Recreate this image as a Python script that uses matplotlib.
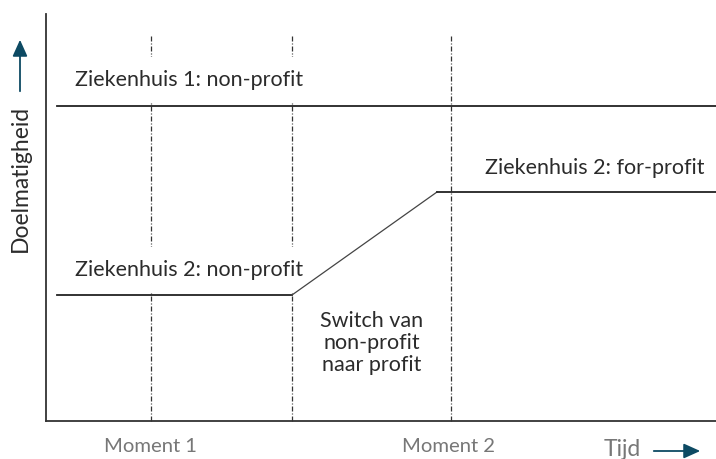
import matplotlib.pyplot as plt

plt.rcParams['font.family'] = ['Lato', 'DejaVu Sans']

# data (axis units, origin at the corner of the two axes)
moments = [105, 246, 405]          # vertical dashed lines
moment_top = 385
zh1_x = [11, 670]
zh1_y = [315, 315]
zh2_x = [11, 246, 391, 670]
zh2_y = [126, 126, 229, 229]
moment_labels = ["Moment 1", "Moment 2"]
moment_label_x = [105, 402]

W, H = 716, 459
fig = plt.figure(figsize=(W / 100, H / 100), dpi=100)
ax = fig.add_axes([46 / W, 38 / H, 670 / W, 407 / H])
ax.set_xlim(0, 670)
ax.set_ylim(0, 407)
ax.set_xticks([])
ax.set_yticks([])
for s in ['top', 'right']:
    ax.spines[s].set_visible(False)
for s in ['left', 'bottom']:
    ax.spines[s].set_color('#333333')
    ax.spines[s].set_linewidth(1.3)

dark = '#2b2b2b'
teal = '#0d4a63'

for m in moments:
    ax.plot([m, m], [0, moment_top], color='#333333', lw=0.9,
            linestyle=(0, (4, 1.6, 0.8, 1.6)), zorder=1, clip_on=False)

ax.plot(zh1_x, zh1_y, color='#222222', lw=1.3, zorder=4, clip_on=False)
ax.plot(zh2_x[:2], zh2_y[:2], color='#222222', lw=1.3, zorder=4)
ax.plot(zh2_x[1:3], zh2_y[1:3], color='#444444', lw=0.9, zorder=4)
ax.plot(zh2_x[2:], zh2_y[2:], color='#222222', lw=1.3, zorder=4, clip_on=False)

fs = 15.5
box = dict(boxstyle='square,pad=0.6', fc='white', ec='none')
ax.text(29, 341, "Ziekenhuis 1: non-profit", fontsize=fs, color=dark,
        ha='left', va='center', bbox=box, zorder=3)
ax.text(29, 151, "Ziekenhuis 2: non-profit", fontsize=fs, color=dark,
        ha='left', va='center', bbox=box, zorder=3)
ax.text(439, 253, "Ziekenhuis 2: for-profit", fontsize=fs, color=dark,
        ha='left', va='center', zorder=3)
ax.text(326, 78, "Switch van\nnon-profit\nnaar profit", fontsize=fs, color=dark,
        ha='center', va='center', linespacing=1.12, zorder=3)

for lx, lab in zip(moment_label_x, moment_labels):
    ax.text(lx, -25, lab, fontsize=14.6, color='#777777', ha='center',
            va='center', clip_on=False)

fig.text(622 / W, 9 / H, "Tijd", fontsize=16.5, color='#777777',
         ha='center', va='center')
ax.annotate('', xy=(703, 8), xytext=(651, 8), xycoords='figure pixels',
            textcoords='figure pixels',
            arrowprops=dict(arrowstyle='-|>,head_length=1.0,head_width=0.45',
                            color=teal, lw=1.3))

fig.text(20 / W, (H - 178) / H, "Doelmatigheid", fontsize=16.5, color=dark,
         rotation=90, ha='center', va='center')
ax.annotate('', xy=(20, H - 37), xytext=(20, H - 94), xycoords='figure pixels',
            textcoords='figure pixels',
            arrowprops=dict(arrowstyle='-|>,head_length=1.0,head_width=0.45',
                            color=teal, lw=1.3))

fig.savefig('out.png', dpi=100)
